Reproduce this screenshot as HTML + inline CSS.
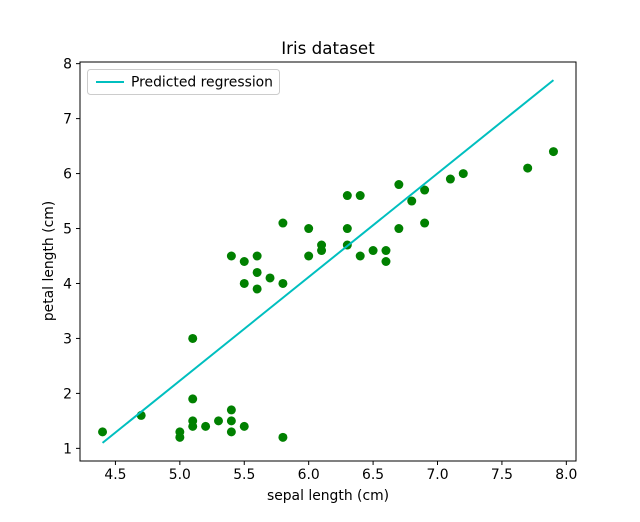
<!DOCTYPE html>
<html><head><meta charset="utf-8"><style>
body{margin:0;background:#fff;}
svg text{font-family:"DejaVu Sans","Liberation Sans",sans-serif;fill:#000;}
</style></head><body>
<svg id="chart" width="640" height="517" xmlns="http://www.w3.org/2000/svg">
<rect width="640" height="517" fill="#fff"/>
<g id="marks"></g>
<g id="axes"></g>
</svg>
<script>
const sepal = [4.4,4.7,5.0,5.0,5.1,5.1,5.1,5.1,5.2,5.3,5.4,5.4,5.4,5.5,5.8,5.4,5.5,5.5,5.6,5.6,5.6,5.7,5.8,5.8,6.0,6.0,6.1,6.1,6.3,6.3,6.3,6.4,6.4,6.5,6.6,6.6,6.7,6.7,6.8,6.9,6.9,7.1,7.2,7.7,7.9];
const petal = [1.3,1.6,1.2,1.3,3.0,1.9,1.5,1.4,1.4,1.5,1.7,1.5,1.3,1.4,1.2,4.5,4.4,4.0,4.5,4.2,3.9,4.1,4.0,5.1,5.0,4.5,4.7,4.6,5.6,5.0,4.7,5.6,4.5,4.6,4.6,4.4,5.8,5.0,5.5,5.7,5.1,5.9,6.0,6.1,6.4];
const lineX = [4.4,7.9];
const lineY = [1.1,7.7];
const xTicks = [4.5,5.0,5.5,6.0,6.5,7.0,7.5,8.0];
const yTicks = [1,2,3,4,5,6,7,8];

const L=80,R=576,T=62,B=461;
const xmin=4.225,xmax=8.075,ymin=0.77,ymax=8.03;
const sx=v=>L+(v-xmin)/(xmax-xmin)*(R-L);
const sy=v=>B-(v-ymin)/(ymax-ymin)*(B-T);
const NS="http://www.w3.org/2000/svg";
function mk(tag,attrs,parent){const e=document.createElementNS(NS,tag);for(const k in attrs)e.setAttribute(k,attrs[k]);parent.appendChild(e);return e;}
const marks=document.getElementById('marks'),axes=document.getElementById('axes');

sepal.forEach((x,i)=>{
  const c=mk('circle',{cx:sx(x),cy:sy(petal[i]),r:4.5,fill:'#008000'},marks);
  
  
});
const ln=mk('line',{x1:sx(lineX[0]),y1:sy(lineY[0]),x2:sx(lineX[1]),y2:sy(lineY[1]),stroke:'#00bfbf','stroke-width':2},marks);



const frame=mk('rect',{x:L,y:T,width:R-L,height:B-T,fill:'none',stroke:'#000','stroke-width':1},axes);



xTicks.forEach(v=>{
  const x=sx(v);
  mk('line',{x1:x,y1:B,x2:x,y2:B+4,stroke:'#000'},axes);
  const t=mk('text',{x:x,y:B+18,'text-anchor':'middle','font-size':13.9},axes);
  t.textContent=v.toFixed(1);
  
  
});
yTicks.forEach(v=>{
  const y=sy(v);
  mk('line',{x1:L-4,y1:y,x2:L,y2:y,stroke:'#000'},axes);
  const t=mk('text',{x:L-8,y:y+5,'text-anchor':'end','font-size':13.9},axes);
  t.textContent=String(v);
  
  
});
</script>
<svg style="position:absolute;left:0;top:0" width="640" height="517" xmlns="http://www.w3.org/2000/svg">
<text x="328" y="54" text-anchor="middle" font-size="16.7">Iris dataset</text>
<text x="328" y="500" text-anchor="middle" font-size="13.9">sepal length (cm)</text>
<text x="0" y="0" transform="translate(53,261) rotate(-90)" text-anchor="middle" font-size="13.9">petal length (cm)</text>
<g>
<rect x="87.5" y="69.5" width="192" height="25" rx="3" fill="#fff" fill-opacity="0.8" stroke="#ccc"/>
<line x1="96" y1="82" x2="124" y2="82" stroke="#00bfbf" stroke-width="2"/>
<text x="131" y="86.5" font-size="13.9">Predicted regression</text>
</g>
</svg>
</body></html>
